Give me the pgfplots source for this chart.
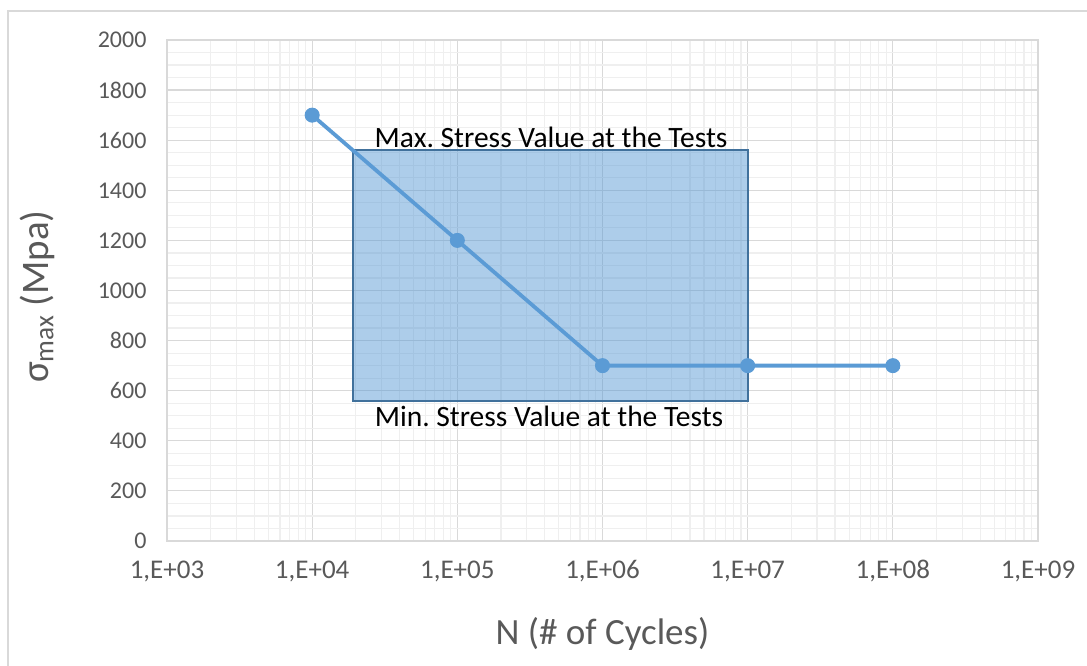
\documentclass[border=0pt]{standalone}
\usepackage{pgfplots}
\pgfplotsset{compat=1.18}
\usepackage{fontspec}
\setmainfont{Carlito}
\frenchspacing
\definecolor{serie}{HTML}{5B9BD5}
\definecolor{boxedge}{HTML}{41719C}
\definecolor{majgrid}{HTML}{D9D9D9}
\definecolor{mingrid}{HTML}{EFEFEF}
\definecolor{ticktext}{HTML}{595959}
\begin{document}
\begin{tikzpicture}
\useasboundingbox (0,0) rectangle (1087pt,666pt);
% chart frame (only left and top edges are in view)
\draw[majgrid, line width=1.5pt] (8pt,0) -- (8pt,655pt) -- (1087pt,655pt);
\begin{axis}[
  at={(167pt,125pt)}, anchor=south west,
  scale only axis, width=871pt, height=501pt,
  xmode=log,
  xmin=1e3, xmax=1e9, ymin=0, ymax=2000,
  xtick={1e3,1e4,1e5,1e6,1e7,1e8,1e9},
  xticklabels={{1,E+03},{1,E+04},{1,E+05},{1,E+06},{1,E+07},{1,E+08},{1,E+09}},
  ytick={0,200,...,2000},
  minor y tick num=3,
  grid=both,
  major grid style={majgrid, line width=1.2pt},
  minor grid style={mingrid, line width=1.2pt},
  axis line style={majgrid, line width=1.2pt},
  major tick length=0pt, minor tick length=0pt,
  ticklabel style={text=ticktext},
  /pgf/number format/assume math mode=true,
  /pgf/number format/1000 sep={},
  xticklabel style={font=\fontsize{27}{31}\selectfont, yshift=-16pt},
  yticklabel style={font=\fontsize{24}{28}\selectfont, xshift=-17pt},
  xlabel={N (\# of Cycles)},
  ylabel={σ\textsubscript{max} (Mpa)},
  label style={text=ticktext},
  xlabel style={font=\fontsize{37}{42}\selectfont, yshift=-28pt},
  ylabel style={font=\fontsize{39}{44}\selectfont, yshift=36pt, xshift=-6pt},
  clip=false,
]
\addplot[fill=serie, fill opacity=0.5, draw=boxedge, draw opacity=1, line width=2pt]
  coordinates {(1.9e4,560) (1e7,560) (1e7,1560) (1.9e4,1560)} -- cycle;
\addplot[serie, line width=3.8pt, mark=*, mark size=7pt, mark options={fill=serie, draw=serie, line width=1pt}]
  coordinates {(1e4,1700) (1e5,1200) (1e6,700) (1e7,700) (1e8,700)};
\node[font=\fontsize{29.5}{34}\selectfont] at (rel axis cs:0.441,0.806) {Max. Stress Value at the Tests};
\node[font=\fontsize{29.5}{34}\selectfont] at (rel axis cs:0.4386,0.2495) {Min. Stress Value at the Tests};
\end{axis}
\end{tikzpicture}
\end{document}
